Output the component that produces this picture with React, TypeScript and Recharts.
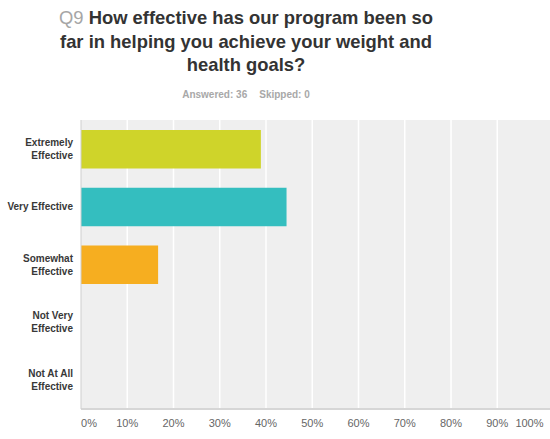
import React from 'react';
import { BarChart, Bar, XAxis, YAxis, CartesianGrid, Cell } from 'recharts';

const categories = [
  'Extremely\nEffective',
  'Very Effective',
  'Somewhat\nEffective',
  'Not Very\nEffective',
  'Not At All\nEffective',
];
const percentValues = [38.89, 44.44, 16.67, 0, 0];
const barColors = ['#cfd42a', '#34bebf', '#f6ae20', '#9d9d9d', '#8a8a8a'];
const percentTicks = [0, 10, 20, 30, 40, 50, 60, 70, 80, 90, 100];
const xDomain = [0, 101.4];
// white grid lines sit only on the inner ticks
const gridTicks = percentTicks.slice(1, -1);

const chartData = categories.map((name, i) => ({ name, value: percentValues[i] }));

const FONT = '"Liberation Sans", Arial, Helvetica, sans-serif';

function CategoryTick({ x, y, payload }: any) {
  const lines = String(payload.value).split('\n');
  const start = y - ((lines.length - 1) * 13) / 2 + 3.5;
  return (
    <text x={x} y={start} textAnchor="end" fill="#383838" fontSize={10} fontWeight="bold" fontFamily={FONT}>
      {lines.map((line, i) => (
        <tspan key={i} x={x} y={start + i * 13}>
          {line}
        </tspan>
      ))}
    </text>
  );
}

function PercentTick({ x, y, payload, index }: any) {
  // first label hugs the left edge, last one the right edge
  const anchor = index === 0 ? 'start' : index === percentTicks.length - 1 ? 'end' : 'middle';
  return (
    <text x={x} y={y + 10} textAnchor={anchor} fill="#666" fontSize={11} fontFamily={FONT}>
      {payload.value}%
    </text>
  );
}

const innerGridLines = ({ xAxis, offset }: any) => {
  const s = xAxis && xAxis.scale;
  if (typeof s === 'function') return gridTicks.map((t) => s(t));
  // fall back to the linear mapping of the same domain over the plot width
  return gridTicks.map((t) => offset.left + (offset.width * (t - xDomain[0])) / (xDomain[1] - xDomain[0]));
};

export default function App() {
  return (
    <div
      style={{
        position: 'absolute',
        left: 0,
        top: 0,
        width: 550,
        height: 439,
        background: '#fff',
        fontFamily: FONT,
        overflow: 'hidden',
      }}
    >
      <div
        style={{
          position: 'absolute',
          top: 6,
          left: 46,
          width: 400,
          textAlign: 'center',
          fontSize: 18.4,
          fontWeight: 'bold',
          lineHeight: '23.5px',
          color: '#333',
        }}
      >
        <span style={{ color: '#a6a6a6', fontWeight: 'normal' }}>Q9</span> How effective has our program been so
        <br />
        far in helping you achieve your weight and
        <br />
        health goals?
      </div>
      <div
        style={{
          position: 'absolute',
          top: 89,
          left: 46,
          width: 400,
          textAlign: 'center',
          fontSize: 10,
          fontWeight: 'bold',
          color: '#a8a8a8',
        }}
      >
        <span>Answered: 36</span>
        <span style={{ marginLeft: 12 }}>Skipped: 0</span>
      </div>
      <div style={{ position: 'absolute', top: 110, left: 0 }}>
        <BarChart
          width={550}
          height={329}
          data={chartData}
          layout="vertical"
          margin={{ top: 10, right: 0, bottom: 0, left: 0 }}
        >
          <CartesianGrid
            horizontal={false}
            vertical={true}
            stroke="#ffffff"
            strokeWidth={1.5}
            fill="#efefef"
            verticalCoordinatesGenerator={innerGridLines}
          />
          <XAxis
            type="number"
            domain={xDomain}
            ticks={percentTicks}
            height={30}
            axisLine={{ stroke: '#d6d6d6', strokeWidth: 2 }}
            tickLine={false}
            tick={<PercentTick />}
            interval={0}
          />
          <YAxis
            type="category"
            dataKey="name"
            width={81}
            axisLine={{ stroke: '#cfcfcf' }}
            tickLine={false}
            tick={<CategoryTick />}
            interval={0}
          />
          <Bar dataKey="value" barSize={38.5} isAnimationActive={false}>
            {chartData.map((_, i) => (
              <Cell key={i} fill={barColors[i]} />
            ))}
          </Bar>
        </BarChart>
      </div>
    </div>
  );
}
